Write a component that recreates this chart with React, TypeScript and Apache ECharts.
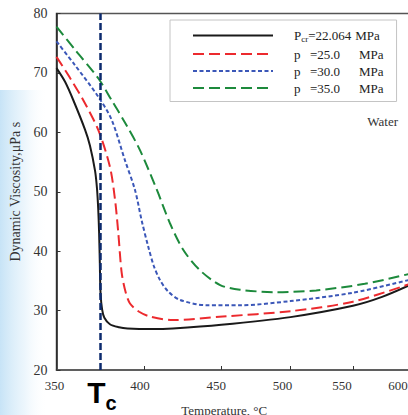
import React, { useEffect, useRef } from 'react';
import * as echarts from 'echarts';

// Temperature (°C) and dynamic viscosity (µPa s)
const blackT = [350, 354.6, 359.1, 365.5, 368.3, 371.2, 372.3, 373, 373.5, 373.9, 374.3, 375.2, 376.5, 379.7, 385, 390, 405, 418, 450, 500, 550, 575, 600];
const blackV = [70.8, 68.5, 65.4, 60.5, 57.8, 53.5, 50.5, 47, 43, 38, 33, 30.2, 28.8, 27.7, 27.2, 27.0, 26.9, 27.0, 27.6, 28.9, 30.8, 32.3, 34.3];

const redT = [350, 357, 364.6, 373, 379.7, 382.7, 384.6, 386.6, 389, 391.5, 397, 403.7, 418, 451, 500, 550, 600];
const redV = [72.7, 69.3, 65.4, 60.4, 54.2, 48.6, 43, 36.3, 33.0, 31.2, 29.8, 29.0, 28.4, 29.0, 29.9, 31.5, 34.5];

const blueT = [350, 360, 373, 380.7, 388.5, 394.5, 398.5, 402.6, 406, 409.9, 415, 422.5, 440, 463, 500, 550, 600];
const blueV = [75.3, 71.3, 66.0, 62.1, 55.3, 50.3, 45.2, 40.7, 37.5, 35.1, 33.2, 31.8, 30.9, 30.9, 31.6, 33.0, 35.2];

const greenT = [350, 360, 373, 380.7, 389, 397.5, 407.9, 416.1, 424.7, 435.5, 449.2, 463, 489.5, 520, 560, 600];
const greenV = [77.8, 73.9, 69.1, 65.4, 61.4, 57.0, 50.3, 44.7, 40.2, 36.8, 34.3, 33.5, 33.1, 33.4, 34.5, 36.2];

const xTicks = [350, 400, 450, 500, 550, 600];
const seriesNames = ['Pcr=22.064 MPa', 'p =25.0 MPa', 'p =30.0 MPa', 'p =35.0 MPa'];
const TC = 373.95;

// style: leftward shift (px) of each x tick label, as in the original figure
const xLabelShift = [2, 4, 5, 8, 11, 12];

const zip = (t: number[], v: number[]) => t.map((x, i) => [x, v[i]]);

const SERIF = '"Liberation Serif", "Times New Roman", serif';

export default function App() {
  const ref = useRef<HTMLDivElement>(null);
  useEffect(() => {
    const chart = echarts.init(ref.current!, null, { renderer: 'svg' });
    const lineBase = {
      type: 'line',
      showSymbol: false,
      symbol: 'none',
      smooth: 0.3,
      z: 3,
    };
    const xRich: Record<string, any> = {};
    xTicks.forEach((_, i) => {
      xRich['t' + i] = {
        fontFamily: SERIF,
        fontSize: 13,
        color: '#333',
        padding: [0, xLabelShift[i] * 2, 0, 0],
      };
    });
    chart.setOption({
      animation: false,
      backgroundColor: '#ffffff',
      grid: {
        left: 56.5,
        right: -2,
        top: 13.5,
        bottom: 45,
        show: true,
        borderColor: '#555',
        borderWidth: 1.5,
        backgroundColor: 'transparent',
        containLabel: false,
        outerBoundsMode: 'none',
      },
      xAxis: {
        type: 'log',
        min: 350,
        max: 600,
        name: 'Temperature, °C',
        nameLocation: 'middle',
        nameGap: 34,
        nameTextStyle: { fontFamily: SERIF, fontSize: 13, color: '#333', padding: [0, 18, 0, 0] },
        axisLine: { lineStyle: { color: '#555', width: 1.5 } },
        axisTick: { inside: true, length: 4, lineStyle: { color: '#333' }, customValues: xTicks },
        axisLabel: {
          customValues: xTicks,
          fontFamily: SERIF,
          fontSize: 13,
          color: '#333',
          margin: 9,
          formatter: (v: number) => {
            const r = Math.round(v);
            const i = xTicks.indexOf(r);
            return i >= 0 ? '{t' + i + '|' + r + '}' : String(r);
          },
          rich: xRich,
        },
        splitLine: { show: false },
        minorTick: { show: false },
      },
      yAxis: {
        type: 'value',
        min: 20,
        max: 80,
        interval: 10,
        name: 'Dynamic Viscosity,μPa s',
        nameLocation: 'middle',
        nameGap: 31,
        nameTextStyle: { fontFamily: SERIF, fontSize: 14, color: '#333' },
        axisLine: { show: true, lineStyle: { color: '#222', width: 1.5 } },
        axisTick: { show: true, inside: true, length: 4, lineStyle: { color: '#333' } },
        axisLabel: { fontFamily: SERIF, fontSize: 14, color: '#333', margin: 9 },
        splitLine: { show: false },
      },
      legend: {
        orient: 'vertical',
        left: 170,
        top: 20,
        padding: [9, 13, 7, 22],
        itemWidth: 80,
        itemHeight: 14,
        itemGap: 4,
        borderColor: '#c4c4c4',
        borderWidth: 1,
        data: seriesNames,
        itemStyle: { color: 'transparent', borderColor: 'transparent', borderWidth: 0, opacity: 0 },
        formatter: (name: string) => {
          const i = seriesNames.indexOf(name);
          if (i === 0) return '{a|P}{s|cr}{b1|=22.064}{c|MPa}';
          const val = name.replace('p =', '').replace(' MPa', '');
          return '{a2|p}{b|=' + val + '}{c|MPa}';
        },
        textStyle: {
          fontFamily: SERIF,
          fontSize: 13,
          color: '#222',
          rich: {
            a: { fontFamily: SERIF, fontSize: 13, color: '#222', padding: [0, 0, 0, 16], lineHeight: 16 },
            a2: { fontFamily: SERIF, fontSize: 13, color: '#222', padding: [0, 0, 0, 16], width: 16, lineHeight: 16 },
            s: { fontFamily: SERIF, fontSize: 9, color: '#222', lineHeight: 9, verticalAlign: 'bottom' },
            b1: { fontFamily: SERIF, fontSize: 13, color: '#222', width: 47, lineHeight: 16 },
            b: { fontFamily: SERIF, fontSize: 13, color: '#222', width: 49, lineHeight: 16 },
            c: { fontFamily: SERIF, fontSize: 13, color: '#222', lineHeight: 16 },
          },
        },
      },
      graphic: [
        {
          type: 'rect',
          z: -100,
          silent: true,
          shape: { x: 0, y: 90, width: 48, height: 325 },
          style: {
            fill: new echarts.graphic.LinearGradient(0, 0, 1, 0, [
              { offset: 0, color: 'rgba(196,226,246,0.95)' },
              { offset: 0.5, color: 'rgba(222,239,250,0.6)' },
              { offset: 1, color: 'rgba(255,255,255,0)' },
            ]),
          },
        },
        {
          type: 'text',
          x: 398,
          y: 121,
          style: {
            text: 'Water',
            font: '13px "Liberation Serif", serif',
            fill: '#333',
            align: 'right',
            textAlign: 'right',
            verticalAlign: 'middle',
            textVerticalAlign: 'middle',
          },
        },
        {
          type: 'text',
          x: 96.5,
          y: 392,
          style: {
            text: 'T',
            font: 'bold 30px "Liberation Sans", Arial, sans-serif',
            fill: '#000',
            align: 'center',
            textAlign: 'center',
            verticalAlign: 'middle',
            textVerticalAlign: 'middle',
          },
        },
        {
          type: 'text',
          x: 111,
          y: 403,
          style: {
            text: 'c',
            font: 'bold 20px "Liberation Sans", Arial, sans-serif',
            fill: '#000',
            align: 'center',
            textAlign: 'center',
            verticalAlign: 'middle',
            textVerticalAlign: 'middle',
          },
        },
      ],
      series: [
        {
          ...lineBase,
          name: seriesNames[0],
          data: zip(blackT, blackV),
          lineStyle: { color: '#1a1a1a', width: 2, type: 'solid' },
          itemStyle: { color: '#1a1a1a' },
          markLine: {
            silent: true,
            symbol: 'none',
            label: { show: false },
            lineStyle: { color: '#0c2a6e', width: 2.5, type: [7, 3] },
            data: [{ xAxis: TC }],
            z: 5,
          },
        },
        {
          ...lineBase,
          name: seriesNames[1],
          data: zip(redT, redV),
          lineStyle: { color: '#ec2a2e', width: 2, type: [11, 5] },
          itemStyle: { color: '#ec2a2e' },
        },
        {
          ...lineBase,
          name: seriesNames[2],
          data: zip(blueT, blueV),
          lineStyle: { color: '#3b57b8', width: 2, type: [4, 2.5] },
          itemStyle: { color: '#3b57b8' },
        },
        {
          ...lineBase,
          name: seriesNames[3],
          data: zip(greenT, greenV),
          lineStyle: { color: '#1d8a3c', width: 2, type: [11, 5] },
          itemStyle: { color: '#1d8a3c' },
        },
      ],
    });
    return () => chart.dispose();
  }, []);
  return <div ref={ref} style={{ width: 408, height: 415, position: 'absolute', left: 0, top: 0 }} />;
}
